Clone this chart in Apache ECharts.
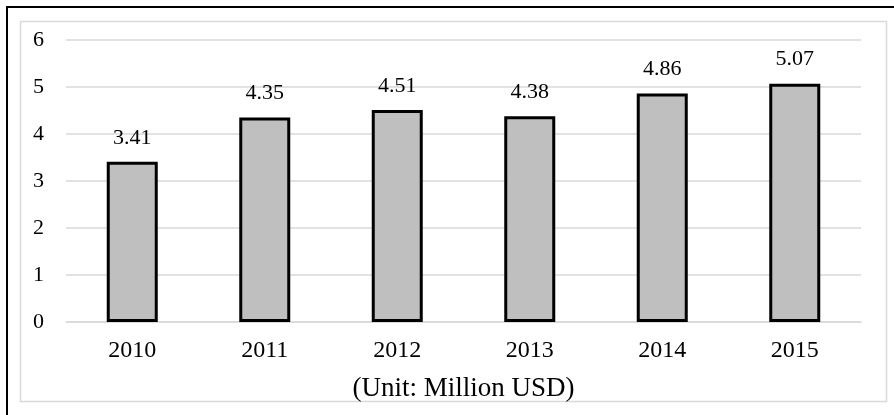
<!DOCTYPE html>
<html>
<head>
<meta charset="utf-8">
<script src="https://cdn.jsdelivr.net/npm/echarts@6/dist/echarts.min.js"></script>
<style>html,body{margin:0;padding:0;background:#fff;}#c{width:894px;height:415px;}</style>
</head>
<body>
<div id="c"></div>
<script>
const categories = ['2010', '2011', '2012', '2013', '2014', '2015'];
const values = [3.41, 4.35, 4.51, 4.38, 4.86, 5.07];
const valueLabels = ['3.41', '4.35', '4.51', '4.38', '4.86', '5.07'];
const axisName = '(Unit: Million USD)';

const font = 'Liberation Serif, Times New Roman, serif';
const chart = echarts.init(document.getElementById('c'));
chart.setOption({
  backgroundColor: '#fff',
  animation: false,
  graphic: [
    { type: 'rect', shape: { x: 7, y: 7, width: 940, height: 440 }, style: { fill: 'none', stroke: '#000', lineWidth: 2 }, silent: true },
    { type: 'rect', shape: { x: 20.5, y: 21.5, width: 866, height: 380 }, style: { fill: 'none', stroke: '#d9d9d9', lineWidth: 1.5 }, silent: true }
  ],
  grid: { left: 66, right: 33, top: 40, bottom: 93 },
  xAxis: {
    type: 'category',
    data: categories,
    axisLine: { lineStyle: { color: '#d9d9d9', width: 1.5 } },
    axisTick: { show: false },
    axisLabel: { color: '#000', fontFamily: font, fontSize: 24, margin: 17 },
    name: axisName,
    nameLocation: 'middle',
    nameGap: 53,
    nameTextStyle: { color: '#000', fontFamily: font, fontSize: 27 }
  },
  yAxis: {
    type: 'value',
    min: 0, max: 6, interval: 1,
    axisLine: { show: false },
    axisTick: { show: false },
    splitLine: { lineStyle: { color: '#d9d9d9', width: 1.5 } },
    axisLabel: { color: '#000', fontFamily: font, fontSize: 22, margin: 22 }
  },
  series: [{
    type: 'bar',
    data: values,
    barWidth: 51,
    itemStyle: { color: '#bfbfbf', borderColor: '#000', borderWidth: 3 },
    label: {
      show: true, position: 'top', distance: 13,
      color: '#000', fontFamily: font, fontSize: 22,
      formatter: p => valueLabels[p.dataIndex]
    }
  }]
});
</script>
</body>
</html>
